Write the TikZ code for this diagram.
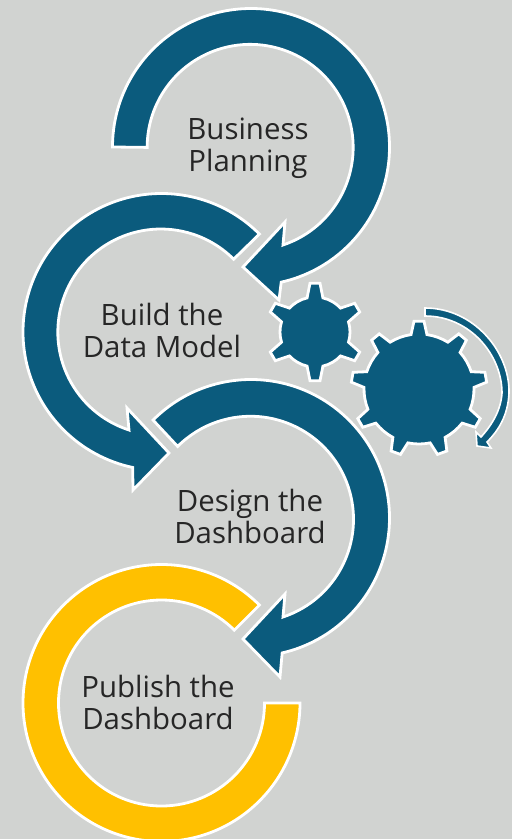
\documentclass[tikz,border=0pt]{standalone}
\usepackage{fontspec}
\setmainfont{Open Sans}
\definecolor{bgc}{HTML}{D1D3D1}
\definecolor{bluec}{HTML}{0B5B7D}
\definecolor{yelc}{HTML}{FFC000}
\definecolor{txtc}{HTML}{262626}
\tikzset{
  band/.style={draw=white,line width=2.8pt,fill=bluec,line join=miter,miter limit=10},
  yband/.style={band,fill=yelc},
  lab/.style={align=center,text=txtc,font=\fontsize{29.4}{32}\selectfont,inner sep=0pt},
}
\newcommand{\gearshape}[6]{% cx,cy,count,rb,rt,start
  \begin{scope}[shift={(#1,#2)}]
  \pgfmathsetmacro{\spc}{360/#3}
  \pgfmathsetmacro{\db}{8/#4*57.3}
  \pgfmathsetmacro{\dt}{5/#5*57.3}
  \pgfmathsetmacro{\as}{#6-\db}
  \draw[band] (\as:#4pt)
   \foreach \k in {1,...,#3} {
     \pgfextra{\pgfmathsetmacro{\aa}{#6+(\k-1)*\spc}\pgfmathsetmacro{\ab}{\aa+\spc}}
     -- ({\aa-\db}:#4pt) -- ({\aa-\dt}:#5pt) -- ({\aa+\dt}:#5pt) -- ({\aa+\db}:#4pt)
     arc[start angle={\aa+\db},end angle={\ab-\db},radius=#4pt]
   } -- cycle;
  \end{scope}}
\begin{document}
\begin{tikzpicture}[x=1pt,y=1pt,yscale=-1]
\useasboundingbox (0,0) rectangle (512,839);
\fill[bgc] (0,0) rectangle (512,839);
% arrow 1
\draw[band] (251,147) ++(180:138.5pt) arc[start angle=180,end angle=437.4,radius=138.5pt]
  -- (279,300) -- (243,267) -- (285,222) -- (283,245)
  arc[start angle=431.4,end angle=180,radius=103pt] -- cycle;
% arrow 2
\draw[band] (161.5,332) ++(315:138.5pt) arc[start angle=315,end angle=102,radius=138.5pt]
  -- (133,490) -- (169,453) -- (127,408) -- (129,430)
  arc[start angle=108,end angle=315,radius=103pt] -- cycle;
% arrow 4 yellow
\draw[yband] (161.5,703) ++(315:138.5pt) arc[start angle=315,end angle=0,radius=138.5pt]
  -- ++(-35.5,0) arc[start angle=0,end angle=315,radius=103pt] -- cycle;
% arrow 3
\draw[band] (251,518) ++(225:138.5pt) arc[start angle=225,end angle=437,radius=138.5pt]
  -- (280,677) -- (243,639) -- (285,594) -- (283,617)
  arc[start angle=431.6,end angle=225,radius=103pt] -- cycle;
% gears
\gearshape{315}{332}{6}{35}{49}{-90}
\gearshape{419}{389}{9}{55}{68}{-90}
% small rotation arrow
\draw[band,line width=1.6pt] (425,308) .. controls (474,308) and (510,352) .. (509,393)
  .. controls (508,415) and (499,430) .. (487,442)
  -- (491,448) -- (477,446) -- (476,432) -- (481,437)
  .. controls (492,425) and (501,410) .. (502,393)
  .. controls (502,355) and (470,316) .. (425,316) -- cycle;
% labels
\node[lab] (n1) at (248,148) {Business\\Planning};
\node[lab] (n2) at (162,330) {Build the\\Data Model};
\node[lab] (n3) at (250,516) {Design the\\Dashboard};
\node[lab] (n4) at (158,702) {Publish the\\Dashboard};
\end{tikzpicture}
\end{document}
